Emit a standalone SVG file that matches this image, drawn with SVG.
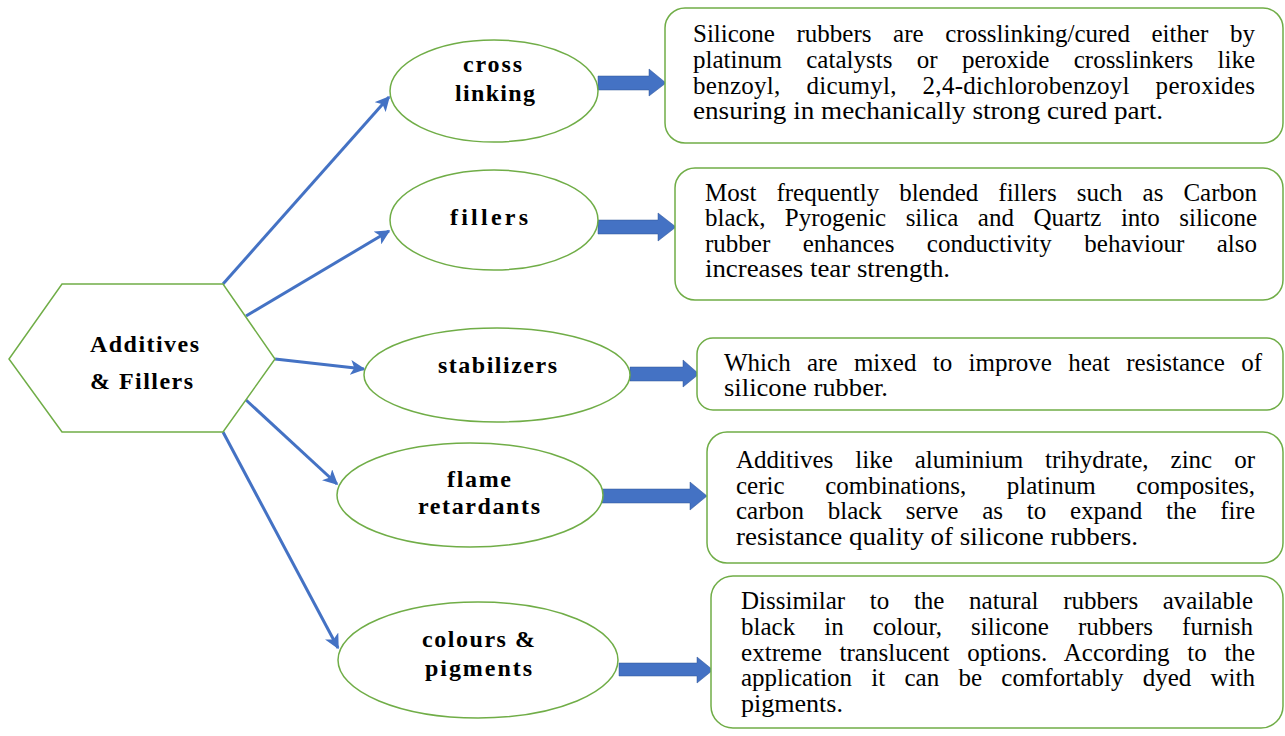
<svg xmlns="http://www.w3.org/2000/svg" width="1285" height="736" viewBox="0 0 1285 736">
<defs>
<style>
.shape{fill:#fff;stroke:#70AD47;stroke-width:1.5}
.lbl{font-family:"Liberation Serif","Times New Roman",serif;font-weight:bold;font-size:24px;fill:#000}
.txt{font-family:"Liberation Serif","Times New Roman",serif;font-size:25px;fill:#000}
.con{stroke:#4472C4;stroke-width:3;fill:none;marker-end:url(#ah)}
.blk{fill:#4472C4;stroke:#2F5597;stroke-width:0.5}
</style>
<marker id="ah" viewBox="0 0 10 10" refX="9" refY="5" markerWidth="5" markerHeight="5" orient="auto" markerUnits="strokeWidth">
<path d="M0,0 L10,5 L0,10 L2.5,5 z" fill="#4472C4"/>
</marker>
</defs>
<rect width="1285" height="736" fill="#fff"/>

<g id="connectors">
<line class="con" x1="223" y1="284" x2="389" y2="97"/>
<line class="con" x1="246" y1="316" x2="389" y2="231"/>
<line class="con" x1="275" y1="359" x2="364" y2="369"/>
<line class="con" x1="246" y1="400" x2="337" y2="484"/>
<line class="con" x1="223" y1="432" x2="338" y2="648"/>
<path class="blk" d="M598,76 L649,76 L649,69 L666,83 L649,96 L649,90 L598,90 z"/>
<path class="blk" d="M598,220 L658,220 L658,213 L676,227 L658,241 L658,234 L598,234 z"/>
<path class="blk" d="M630,367 L683,367 L683,360 L699,374 L683,387 L683,381 L630,381 z"/>
<path class="blk" d="M602,489 L690,489 L690,482 L707,496 L690,510 L690,503 L602,503 z"/>
<path class="blk" d="M619,663 L697,663 L697,657 L713,670 L697,683 L697,676 L619,676 z"/>
</g>

<g id="hub">
<polygon class="shape" points="62,284 223,284 275,359 223,432 62,432 9,359"/>
<text class="lbl" x="90" y="352" textLength="109" lengthAdjust="spacing">Additives</text>
<text class="lbl" x="90" y="389" textLength="103" lengthAdjust="spacing">&amp; Fillers</text>
</g>

<g id="n-crosslinking">
<ellipse class="shape" cx="494" cy="91" rx="104" ry="51"/>
<text class="lbl" x="463" y="72" textLength="59" lengthAdjust="spacing">cross</text>
<text class="lbl" x="455" y="101" textLength="80" lengthAdjust="spacing">linking</text>
</g>

<g id="n-fillers">
<ellipse class="shape" cx="494" cy="220" rx="104" ry="50"/>
<text class="lbl" x="450" y="225" textLength="78" lengthAdjust="spacing">fillers</text>
</g>

<g id="n-stabilizers">
<ellipse class="shape" cx="497" cy="375" rx="133" ry="47"/>
<text class="lbl" x="438" y="373" textLength="119" lengthAdjust="spacing">stabilizers</text>
</g>

<g id="n-flame">
<ellipse class="shape" cx="470" cy="495" rx="133" ry="52"/>
<text class="lbl" x="447" y="487" textLength="64" lengthAdjust="spacing">flame</text>
<text class="lbl" x="418" y="514" textLength="122" lengthAdjust="spacing">retardants</text>
</g>

<g id="n-colours">
<ellipse class="shape" cx="478" cy="660" rx="140" ry="58"/>
<text class="lbl" x="422" y="647" textLength="113" lengthAdjust="spacing">colours &amp;</text>
<text class="lbl" x="425" y="676" textLength="107" lengthAdjust="spacing">pigments</text>
</g>

<g id="d-crosslinking">
<rect class="shape" x="665" y="8" width="618" height="135" rx="20"/>
<text class="txt" x="693" y="42" style="word-spacing:15.3px" textLength="562" lengthAdjust="spacing">Silicone rubbers are crosslinking/cured either by</text>
<text class="txt" x="693" y="68" style="word-spacing:18.1px" textLength="562" lengthAdjust="spacing">platinum catalysts or peroxide crosslinkers like</text>
<text class="txt" x="693" y="94" style="word-spacing:19.3px" textLength="562" lengthAdjust="spacing">benzoyl, dicumyl, 2,4-dichlorobenzoyl peroxides</text>
<text class="txt" x="693" y="119" textLength="470" lengthAdjust="spacingAndGlyphs">ensuring in mechanically strong cured part.</text>
</g>

<g id="d-fillers">
<rect class="shape" x="675" y="168" width="608" height="132" rx="20"/>
<text class="txt" x="705" y="201" style="word-spacing:13.8px" textLength="552" lengthAdjust="spacing">Most frequently blended fillers such as Carbon</text>
<text class="txt" x="705" y="226" style="word-spacing:13.2px" textLength="552" lengthAdjust="spacing">black, Pyrogenic silica and Quartz into silicone</text>
<text class="txt" x="705" y="252" style="word-spacing:26.2px" textLength="552" lengthAdjust="spacing">rubber enhances conductivity behaviour also</text>
<text class="txt" x="705" y="277" textLength="245" lengthAdjust="spacingAndGlyphs">increases tear strength.</text>
</g>

<g id="d-stabilizers">
<rect class="shape" x="697" y="338" width="586" height="72" rx="16"/>
<text class="txt" x="724" y="371" style="word-spacing:10.1px" textLength="538" lengthAdjust="spacing">Which are mixed to improve heat resistance of</text>
<text class="txt" x="724" y="396" textLength="164" lengthAdjust="spacingAndGlyphs">silicone rubber.</text>
</g>

<g id="d-flame">
<rect class="shape" x="707" y="432" width="576" height="131" rx="20"/>
<text class="txt" x="736" y="468" style="word-spacing:15.7px" textLength="519" lengthAdjust="spacing">Additives like aluminium trihydrate, zinc or</text>
<text class="txt" x="736" y="494" style="word-spacing:34.3px" textLength="519" lengthAdjust="spacing">ceric combinations, platinum composites,</text>
<text class="txt" x="736" y="519" style="word-spacing:17.5px" textLength="519" lengthAdjust="spacing">carbon black serve as to expand the fire</text>
<text class="txt" x="736" y="545" textLength="402" lengthAdjust="spacingAndGlyphs">resistance quality of silicone rubbers.</text>
</g>

<g id="d-colours">
<rect class="shape" x="711" y="576" width="572" height="152" rx="22"/>
<text class="txt" x="741" y="609" style="word-spacing:18.4px" textLength="512" lengthAdjust="spacing">Dissimilar to the natural rubbers available</text>
<text class="txt" x="741" y="635" style="word-spacing:22.7px" textLength="512" lengthAdjust="spacing">black in colour, silicone rubbers furnish</text>
<text class="txt" x="741" y="661" style="word-spacing:11.4px" textLength="514" lengthAdjust="spacing">extreme translucent options. According to the</text>
<text class="txt" x="741" y="686" style="word-spacing:13px" textLength="514" lengthAdjust="spacing">application it can be comfortably dyed with</text>
<text class="txt" x="741" y="712" textLength="102" lengthAdjust="spacingAndGlyphs">pigments.</text>
</g>
</svg>
